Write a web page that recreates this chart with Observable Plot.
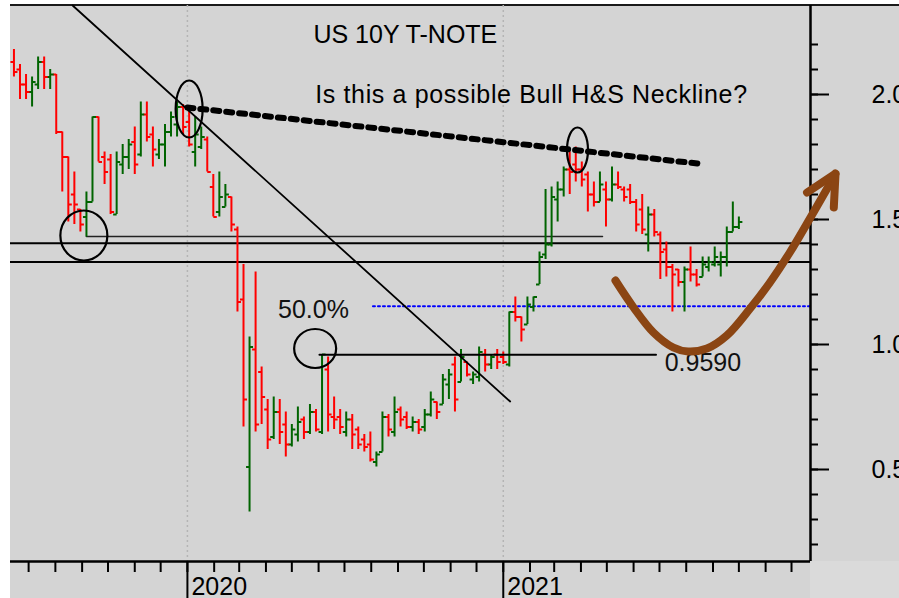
<!DOCTYPE html>
<html>
<head>
<meta charset="utf-8">
<script src="https://cdn.jsdelivr.net/npm/d3@7"></script>
<script src="https://cdn.jsdelivr.net/npm/@observablehq/plot@0.6"></script>
<style>
  html, body { margin: 0; padding: 0; background: #ffffff; }
</style>
</head>
<body>
<script>
// ---------- weekly OHLC of the US 10Y yield ----------
const firstWeek = "2019-06-14";
const opens = [2.13,2.10,2.04,2.01,2.04,2.13,2.07,2.08,1.85,1.75,1.60,1.54,1.51,1.57,1.91,1.75,1.74,1.52,1.72,1.75,
  1.81,1.76,1.92,1.84,1.76,1.80,1.85,1.88,1.95,1.89,1.77,1.79,1.82,1.63,1.53,1.55,1.59,1.46,1.18,0.51,
  0.98,0.89,0.74,0.63,0.73,0.68,0.60,0.64,0.70,0.65,0.73,0.65,0.90,0.71,0.71,0.65,0.70,0.66,0.62,0.60,
  0.53,0.57,0.71,0.65,0.74,0.71,0.67,0.69,0.67,0.72,0.77,0.76,0.84,0.92,0.85,0.93,0.86,0.87,0.96,0.92,
  0.96,0.95,0.92,1.13,1.11,1.08,1.15,1.24,1.36,1.40,1.58,1.62,1.70,1.72,1.70,1.68,1.60,1.57,1.62,1.58,
  1.64,1.62,1.62,1.57,1.54,1.44,1.52,1.44,1.38,1.31,1.30,1.25,1.30,1.28,1.27,1.31,1.32,1.32,1.35,1.45,1.47];
const highs = [2.18,2.12,2.08,2.07,2.15,2.15,2.10,2.08,1.85,1.75,1.69,1.54,1.61,1.91,1.91,1.77,1.76,1.77,1.80,1.82,
  1.87,1.97,1.97,1.87,1.82,1.88,1.93,1.97,1.96,1.94,1.91,1.87,1.83,1.68,1.69,1.64,1.59,1.47,1.32,1.03,
  1.29,0.91,0.78,0.79,0.78,0.73,0.68,0.75,0.71,0.76,0.74,0.96,0.95,0.79,0.74,0.73,0.72,0.67,0.64,0.65,
  0.57,0.73,0.72,0.79,0.75,0.73,0.71,0.70,0.74,0.81,0.77,0.88,0.90,0.95,0.98,0.93,0.89,0.99,0.98,0.96,
  0.98,0.97,1.13,1.19,1.11,1.19,1.19,1.37,1.62,1.63,1.65,1.71,1.77,1.79,1.73,1.69,1.65,1.69,1.65,1.71,
  1.69,1.63,1.64,1.58,1.60,1.55,1.54,1.45,1.41,1.32,1.30,1.31,1.39,1.30,1.35,1.35,1.39,1.37,1.47,1.57,1.51];
const lows = [2.07,1.98,1.98,1.95,2.02,2.02,2.02,1.84,1.61,1.49,1.48,1.45,1.43,1.57,1.73,1.64,1.52,1.52,1.68,1.70,
  1.68,1.75,1.81,1.71,1.74,1.71,1.83,1.83,1.84,1.79,1.71,1.78,1.69,1.51,1.51,1.55,1.45,1.13,0.67,0.33,
  0.65,0.68,0.58,0.62,0.60,0.55,0.59,0.61,0.62,0.64,0.65,0.64,0.65,0.66,0.64,0.63,0.58,0.58,0.57,0.53,
  0.51,0.57,0.63,0.63,0.67,0.66,0.65,0.64,0.65,0.71,0.70,0.76,0.78,0.73,0.85,0.87,0.84,0.85,0.89,0.90,
  0.90,0.92,0.91,1.09,1.01,1.08,1.13,1.24,1.34,1.39,1.49,1.59,1.60,1.65,1.63,1.53,1.55,1.57,1.47,1.57,
  1.62,1.57,1.56,1.45,1.44,1.37,1.43,1.26,1.27,1.13,1.23,1.13,1.25,1.23,1.27,1.29,1.31,1.27,1.31,1.45,1.46];
const closes = [2.09,2.04,2.01,2.05,2.13,2.07,2.08,1.85,1.75,1.56,1.56,1.48,1.57,1.91,1.73,1.69,1.53,1.73,1.75,1.80,
  1.72,1.92,1.83,1.78,1.80,1.85,1.91,1.95,1.87,1.80,1.84,1.83,1.69,1.51,1.59,1.60,1.48,1.17,0.78,0.99,
  0.68,0.79,0.62,0.73,0.65,0.60,0.66,0.69,0.65,0.73,0.66,0.96,0.72,0.70,0.67,0.70,0.64,0.60,0.59,0.54,
  0.56,0.71,0.66,0.73,0.70,0.67,0.69,0.66,0.72,0.78,0.73,0.86,0.88,0.78,0.95,0.88,0.88,0.97,0.92,0.95,
  0.93,0.93,1.13,1.11,1.06,1.16,1.19,1.35,1.40,1.59,1.62,1.70,1.69,1.70,1.66,1.60,1.57,1.64,1.58,1.64,
  1.63,1.59,1.57,1.48,1.46,1.52,1.45,1.37,1.31,1.28,1.25,1.30,1.28,1.24,1.32,1.33,1.35,1.35,1.45,1.47,1.49];

// ---------- axes ----------
const xDomain = ["2019-06-10", "2021-12-23"];
const yDomain = [0.132, 2.356];
const yMajorTicks = [0.5, 1.0, 1.5, 2.0];
const yMajorLabels = ["0.5", "1.0", "1.5", "2.0"];
const yMinorTicks = [0.2,0.3,0.4,0.5,0.6,0.7,0.8,0.9,1.0,1.1,1.2,1.3,1.4,1.5,1.6,1.7,1.8,1.9,2.0,2.1,2.2];
const yearTicks = ["2020-01-01", "2021-01-01"];
const yearLabels = ["2020", "2021"];

// ---------- annotations (data coordinates) ----------
const trendLine = [{date: "2019-08-21", value: 2.356}, {date: "2021-01-09", value: 0.772}];
const necklinePts = [{date: "2020-01-01", value: 1.948}, {date: "2021-08-14", value: 1.724}];
const fullLevels = [1.405, 1.33];
const shortLevel = [{date: "2019-09-06", value: 1.432}, {date: "2021-04-26", value: 1.432}];
const halfLevel = [{date: "2020-06-02", value: 0.959}, {date: "2021-06-27", value: 0.959}];
const blueLevel = [{date: "2020-08-03", value: 1.153}, {date: "2021-12-23", value: 1.153}];
const ellipseCenters = [
  {date: "2019-09-03", value: 1.436},
  {date: "2020-01-03", value: 1.942},
  {date: "2020-05-28", value: 0.984},
  {date: "2021-03-28", value: 1.778}
];
const brownCurve = [
  {date: "2021-05-11", value: 1.256}, {date: "2021-06-01", value: 1.148}, {date: "2021-06-24", value: 1.048},
  {date: "2021-07-17", value: 0.988}, {date: "2021-08-03", value: 0.972}, {date: "2021-08-25", value: 0.984},
  {date: "2021-09-17", value: 1.036}, {date: "2021-10-14", value: 1.144}, {date: "2021-11-06", value: 1.248},
  {date: "2021-11-29", value: 1.368}, {date: "2021-12-23", value: 1.508}, {date: "2022-01-12", value: 1.628},
  {date: "2022-01-21", value: 1.684}
];
const arrowHead = [{date: "2021-12-19", value: 1.608}, {date: "2022-01-21", value: 1.684}, {date: "2022-01-19", value: 1.548}];
const titleTexts = [
  {date: "2020-05-26", value: 2.238, text: "US 10Y T-NOTE"},
  {date: "2020-05-28", value: 1.998, text: "Is this a possible Bull H&S Neckline?"}
];
const noteTexts = [
  {date: "2020-04-15", value: 1.139, text: "50.0%"},
  {date: "2021-07-07", value: 0.927, text: "0.9590"}
];

// ---------- build ----------
const D = (s) => new Date(s);
const start = D(firstWeek);
const bars = opens.map((o, i) => ({
  date: d3.utcDay.offset(start, 7 * i), open: o, high: highs[i], low: lows[i], close: closes[i]
}));
const GREEN = "#006400", RED = "#ff0000";
const barColor = (d) => d.close >= d.open ? GREEN : RED;
const pts = (a) => a.map(d => ({...d, date: D(d.date)}));

const leftTick = {draw(ctx) { ctx.moveTo(-3.5, 0); ctx.lineTo(0, 0); }};
const rightTick = {draw(ctx) { ctx.moveTo(0, 0); ctx.lineTo(3.5, 0); }};
const ellipseSym = (rx, ry) => ({draw(ctx) {
  const k = 0.5523;
  ctx.moveTo(rx, 0);
  ctx.bezierCurveTo(rx, k * ry, k * rx, ry, 0, ry);
  ctx.bezierCurveTo(-k * rx, ry, -rx, k * ry, -rx, 0);
  ctx.bezierCurveTo(-rx, -k * ry, -k * rx, -ry, 0, -ry);
  ctx.bezierCurveTo(k * rx, -ry, rx, -k * ry, rx, 0);
  ctx.closePath();
}});
const ellipseShapes = [ellipseSym(23.5, 25), ellipseSym(13.5, 28.5), ellipseSym(21, 19.5), ellipseSym(10.5, 22.5)];
const E = pts(ellipseCenters);
const monthTicks = d3.utcMonth.range(D("2019-07-01"), D("2022-01-01"));
const FONT = "'Liberation Sans', Arial, sans-serif";

const chart = Plot.plot({
  width: 899,
  height: 598,
  marginLeft: 10,
  marginRight: 89,
  marginTop: 5,
  marginBottom: 37,
  style: `font-family: ${FONT}; background: linear-gradient(#1a1a1a,#1a1a1a) 10px 4px / 889px 2px no-repeat, linear-gradient(#dadada,#dadada) 810px 561px / 89px 37px no-repeat, linear-gradient(#d4d4d4,#d4d4d4) 10px 5px / 889px 593px no-repeat, #ffffff; color: #000;`,
  x: {type: "utc", domain: xDomain.map(D)},
  y: {domain: yDomain},
  color: {type: "identity"},
  marks: [
    Plot.ruleX(yearTicks.map(D), {stroke: "#b4b4b4", strokeWidth: 1.5, strokeDasharray: "2,3"}),
    Plot.ruleY(fullLevels, {stroke: "#000", strokeWidth: 2}),
    Plot.line(pts(shortLevel), {x: "date", y: "value", stroke: "#222", strokeWidth: 1.5}),
    Plot.line(pts(blueLevel), {x: "date", y: "value", stroke: "#0000ff", strokeWidth: 2, strokeDasharray: "2,3"}),
    Plot.ruleX(bars, {x: "date", y1: "low", y2: "high", stroke: barColor, strokeWidth: 2}),
    Plot.dot(bars, {x: "date", y: "open", symbol: leftTick, r: 3, fill: "none", stroke: barColor, strokeWidth: 2}),
    Plot.dot(bars, {x: "date", y: "close", symbol: rightTick, r: 3, fill: "none", stroke: barColor, strokeWidth: 2}),
    Plot.line(pts(halfLevel), {x: "date", y: "value", stroke: "#000", strokeWidth: 2}),
    Plot.line(pts(trendLine), {x: "date", y: "value", stroke: "#000", strokeWidth: 1.8}),
    Plot.line(pts(necklinePts), {x: "date", y: "value", stroke: "#000", strokeWidth: 6, strokeDasharray: "6,7"}),
    ...E.map((c, i) => Plot.dot([c], {x: "date", y: "value", symbol: ellipseShapes[i], r: 5, fill: "none", stroke: "#000", strokeWidth: 2.2})),
    Plot.text(pts(titleTexts), {x: "date", y: "value", text: "text", textAnchor: "start", fontSize: 25, fill: "#000"}),
    Plot.text(pts(noteTexts), {x: "date", y: "value", text: "text", textAnchor: "start", fontSize: 25, fill: "#111"}),
    // axes
    Plot.axisY({anchor: "right", ticks: yMinorTicks, tickSize: 7, tickFormat: () => "", strokeWidth: 2, label: null}),
    Plot.axisY({anchor: "right", ticks: yMajorTicks, tickSize: 18, tickPadding: 43, tickFormat: (d, i) => yMajorLabels[i], fontSize: 25, strokeWidth: 2, label: null}),
    Plot.axisX({ticks: monthTicks, tickSize: 11, tickFormat: () => "", strokeWidth: 2, label: null}),
    Plot.axisX({ticks: yearTicks.map(D), tickSize: 37, tickFormat: () => "", strokeWidth: 2, label: null}),
    Plot.axisX({ticks: yearTicks.map(D), tickSize: 0, tickPadding: 16, tickFormat: (d, i) => yearLabels[i], textAnchor: "start", dx: 4, fontSize: 25, label: null}),
    Plot.ruleX([D(xDomain[1])], {stroke: "#000", strokeWidth: 2.5}),
    Plot.ruleY([yDomain[0]], {stroke: "#000", strokeWidth: 2.5}),
    // brown U and arrow
    Plot.line(pts(brownCurve), {x: "date", y: "value", curve: "catmull-rom", stroke: "#8b4513", strokeWidth: 8}),
    Plot.line(pts(arrowHead), {x: "date", y: "value", stroke: "#8b4513", strokeWidth: 8, strokeLinecap: "round", strokeLinejoin: "miter"})
  ]
});
// the reference's second headline is set slightly wider
d3.select(chart).selectAll("text")
  .filter(function () { return this.textContent === titleTexts[1].text; })
  .attr("letter-spacing", "0.65px");
document.body.appendChild(chart);
</script>
</body>
</html>
